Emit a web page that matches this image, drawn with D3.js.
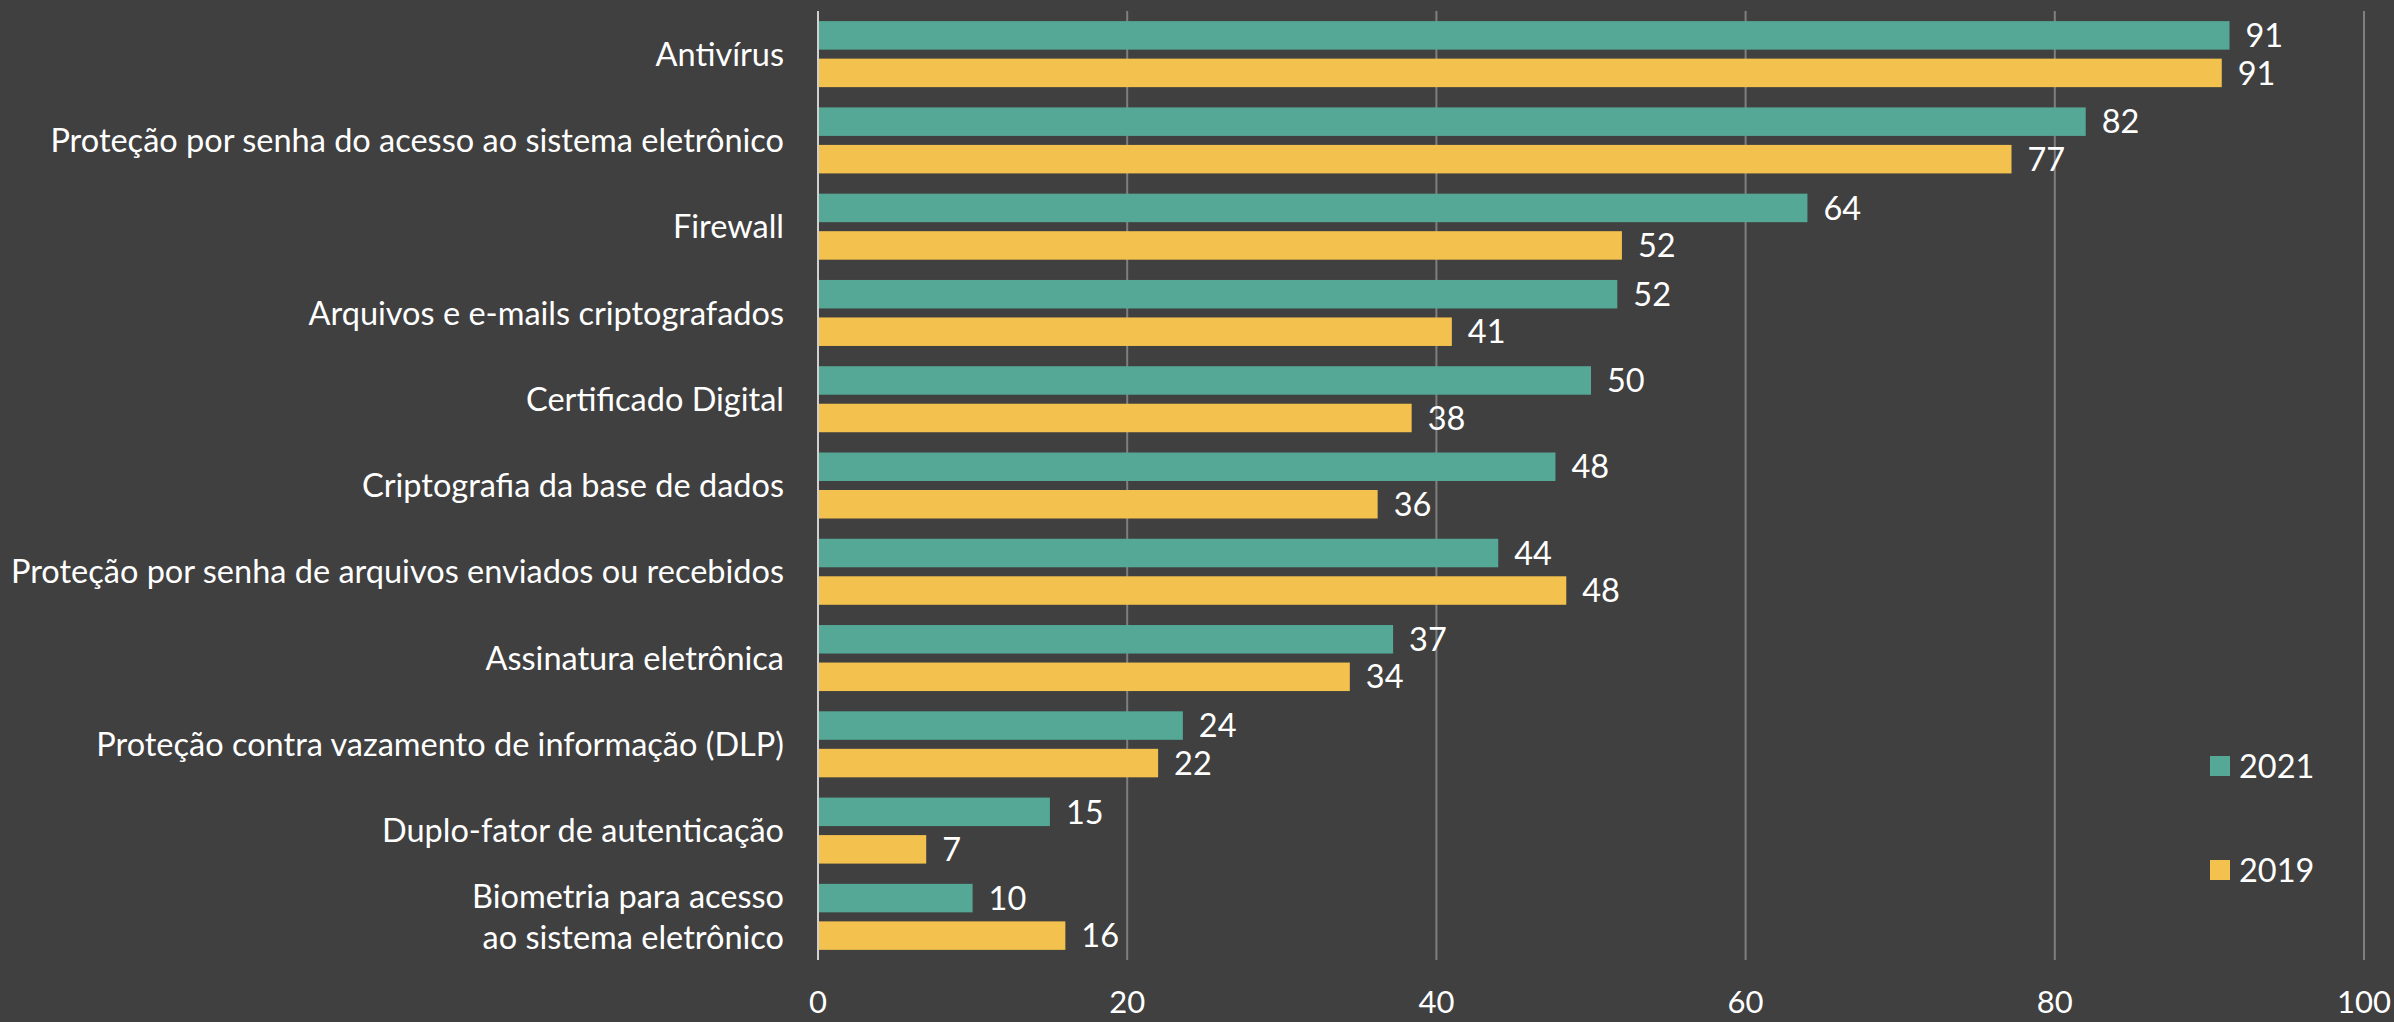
<!DOCTYPE html>
<html>
<head>
<meta charset="utf-8">
<script src="https://d3js.org/d3.v7.min.js"></script>
<style>
  html, body { margin: 0; padding: 0; background: #404040; }
  svg { display: block; }
</style>
</head>
<body>
<svg id="chart"></svg>
<script>
// data
const categories = [
  'Antivírus',
  'Proteção por senha do acesso ao sistema eletrônico',
  'Firewall',
  'Arquivos e e-mails criptografados',
  'Certificado Digital',
  'Criptografia da base de dados',
  'Proteção por senha de arquivos enviados ou recebidos',
  'Assinatura eletrônica',
  'Proteção contra vazamento de informação (DLP)',
  'Duplo-fator de autenticação',
  'Biometria para acesso\nao sistema eletrônico'
]
const values2021 = [91.3, 82, 64, 51.7, 50, 47.7, 44, 37.2, 23.6, 15, 10]
const values2019 = [90.8, 77.2, 52, 41, 38.4, 36.2, 48.4, 34.4, 22, 7, 16]
const seriesNames = ['2021', '2019']
const seriesColors = ['#55a895', '#f2c14e']
const xTicks = [0, 20, 40, 60, 80, 100]

const width = 2394
const height = 1022
const margin = { top: 11, right: 30, bottom: 62, left: 818 }
const fontFamily = 'Lato, "Open Sans", sans-serif'
const fontSize = 32.5

const svg = d3.select('#chart').attr('width', width).attr('height', height)
  .style('font-family', fontFamily)

svg.append('rect').attr('width', width).attr('height', height).attr('fill', '#404040')

const x = d3.scaleLinear().domain([0, 100]).range([margin.left, width - margin.right])
const y = d3.scaleBand().domain(categories).range([margin.top, height - margin.bottom])
const ySub = d3.scaleBand().domain(seriesNames).range([0, y.bandwidth()])
  .paddingInner(0.24).paddingOuter(0.27)

const rows = categories.map((c, i) => ({ cat: c, vals: [values2021[i], values2019[i]] }))

// gridlines
svg.append('g').selectAll('line').data(xTicks.filter(t => t > 0))
  .enter().append('line')
  .attr('x1', d => x(d)).attr('x2', d => x(d))
  .attr('y1', margin.top).attr('y2', height - margin.bottom)
  .attr('stroke', '#7f7f7f').attr('stroke-width', 2)

// bars
const groups = svg.append('g').selectAll('g').data(rows)
  .enter().append('g')
  .attr('transform', d => 'translate(0,' + y(d.cat) + ')')

groups.selectAll('rect').data(d => d.vals.map((v, j) => ({ v: v, s: seriesNames[j], j: j })))
  .enter().append('rect')
  .attr('x', x(0))
  .attr('y', d => ySub(d.s))
  .attr('width', d => x(d.v) - x(0))
  .attr('height', ySub.bandwidth())
  .attr('fill', d => seriesColors[d.j])

groups.selectAll('text.val').data(d => d.vals.map((v, j) => ({ v: v, s: seriesNames[j] })))
  .enter().append('text').attr('class', 'val')
  .attr('x', d => x(d.v) + 16)
  .attr('y', d => ySub(d.s) + ySub.bandwidth() / 2)
  .attr('dy', '0.36em')
  .attr('fill', '#ffffff')
  .attr('font-size', fontSize)
  .text(d => Math.round(d.v))

// zero axis line
svg.append('line')
  .attr('x1', x(0)).attr('x2', x(0))
  .attr('y1', margin.top).attr('y2', height - margin.bottom)
  .attr('stroke', '#d0d0d0').attr('stroke-width', 2)

// category labels
const catLabels = svg.append('g').selectAll('text').data(categories)
  .enter().append('text')
  .attr('text-anchor', 'end')
  .attr('fill', '#ffffff')
  .attr('font-size', fontSize)
  .attr('transform', d => 'translate(' + (x(0) - 34) + ',' + (y(d) + y.bandwidth() / 2) + ')')

catLabels.each(function (d) {
  const lines = d.split('\n')
  const lh = 41
  const t = d3.select(this)
  lines.forEach((ln, i) => {
    t.append('tspan').attr('x', 0)
      .attr('y', (i - (lines.length - 1) / 2) * lh)
      .attr('dy', '0.36em')
      .text(ln)
  })
})

// x axis labels
svg.append('g').selectAll('text').data(xTicks)
  .enter().append('text')
  .attr('x', d => x(d))
  .attr('y', 1002)
  .attr('dy', '0.36em')
  .attr('text-anchor', 'middle')
  .attr('fill', '#ffffff')
  .attr('font-size', 31)
  .text(d => d)

// legend
const legend = svg.append('g').selectAll('g').data(seriesNames)
  .enter().append('g')
  .attr('transform', (d, i) => 'translate(2210,' + (756 + i * 104) + ')')
legend.append('rect').attr('width', 20).attr('height', 20)
  .attr('fill', (d, i) => seriesColors[i])
legend.append('text').attr('x', 29).attr('y', 10).attr('dy', '0.36em')
  .attr('fill', '#ffffff').attr('font-size', fontSize)
  .text(d => d)
</script>
</body>
</html>
